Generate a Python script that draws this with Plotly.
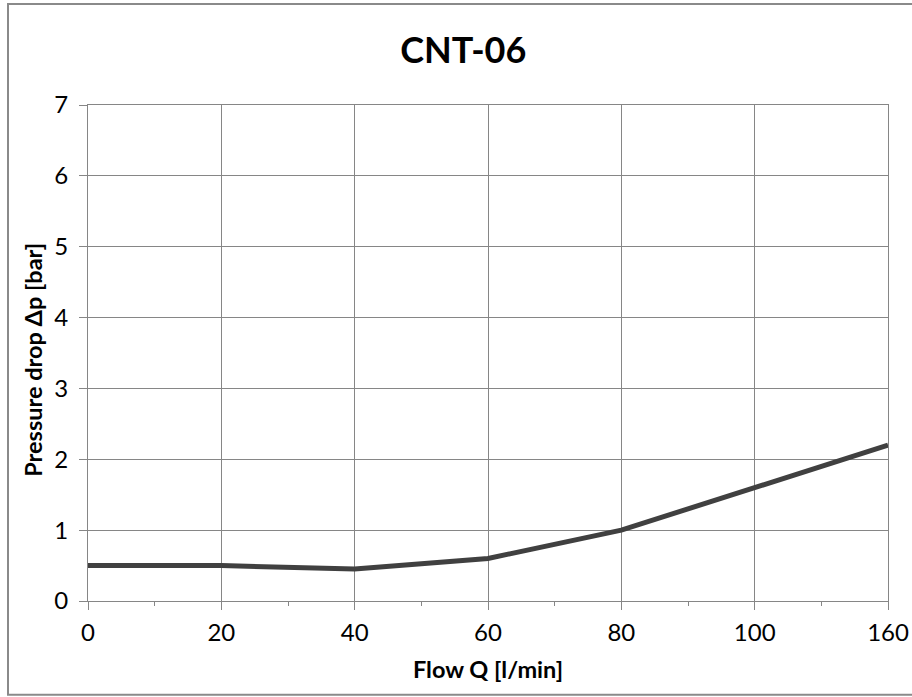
import plotly.graph_objects as go

# --- Data ---
flow_labels = ["0", "20", "40", "60", "80", "100", "160"]
pressure_drop = [0.5, 0.5, 0.45, 0.6, 1.0, 1.6, 2.2]

GRID_COLOR = "#868686"
LINE_COLOR = "#404040"
FONT = "Lato, 'Open Sans', sans-serif"

positions = list(range(len(flow_labels)))

fig = go.Figure()
fig.add_trace(go.Scatter(
    x=positions,
    y=pressure_drop,
    mode="lines",
    line=dict(color=LINE_COLOR, width=5),
    showlegend=False,
))

# outer chart border (right edge runs off the picture)
shapes = [dict(
    type="rect", xref="paper", yref="paper",
    x0=-0.1, x1=1.06, y0=-0.189, y1=1.2036,
    line=dict(color="#8a8a8a", width=2),
    fillcolor="rgba(0,0,0,0)",
    layer="below",
)]

# y axis title placed as annotation (sits a little below the plot centre)
annotations = [dict(
    text="<b>Pressure drop Δp [bar]</b>",
    xref="paper", yref="paper",
    x=-0.069, y=0.486,
    xanchor="center", yanchor="middle",
    textangle=-90, showarrow=False,
    font=dict(size=23.5, family=FONT, color="black"),
)]

fig.update_layout(
    width=912,
    height=697,
    margin=dict(l=88, r=24, t=105, b=96, autoexpand=False),
    paper_bgcolor="white",
    plot_bgcolor="white",
    font=dict(family=FONT, color="black"),
    shapes=shapes,
    annotations=annotations,
    title=dict(
        text="<b>CNT-06</b>",
        x=0.508, xanchor="center",
        y=0.928, yanchor="middle",
        font=dict(size=36, family=FONT, color="black"),
    ),
    xaxis=dict(
        range=[0, len(flow_labels) - 1],
        tickvals=positions,
        ticktext=flow_labels,
        automargin=False,
        showgrid=True, gridcolor=GRID_COLOR, gridwidth=1,
        showline=True, linecolor=GRID_COLOR, linewidth=1,
        mirror=True,
        ticks="outside", ticklen=8, tickcolor=GRID_COLOR, tickwidth=1,
        minor=dict(dtick=0.5, ticks="outside", ticklen=4, tickcolor=GRID_COLOR, showgrid=False),
        tickfont=dict(size=24),
        ticklabelstandoff=2,
        zeroline=False,
        title=dict(text="<b>Flow Q [l/min]</b>", font=dict(size=23.5), standoff=16),
    ),
    yaxis=dict(
        range=[0, 7],
        dtick=1,
        automargin=False,
        showgrid=True, gridcolor=GRID_COLOR, gridwidth=1,
        showline=True, linecolor=GRID_COLOR, linewidth=1,
        mirror=True,
        ticks="outside", ticklen=8, tickcolor=GRID_COLOR, tickwidth=1,
        tickfont=dict(size=24),
        ticklabelstandoff=6,
        zeroline=False,
    ),
)

fig.write_html(
    "out.html",
    config={"responsive": False, "displayModeBar": False},
    post_script="document.body.style.margin='0';"
                "document.body.style.overflow='hidden';"
                "document.documentElement.style.overflow='hidden';",
)
